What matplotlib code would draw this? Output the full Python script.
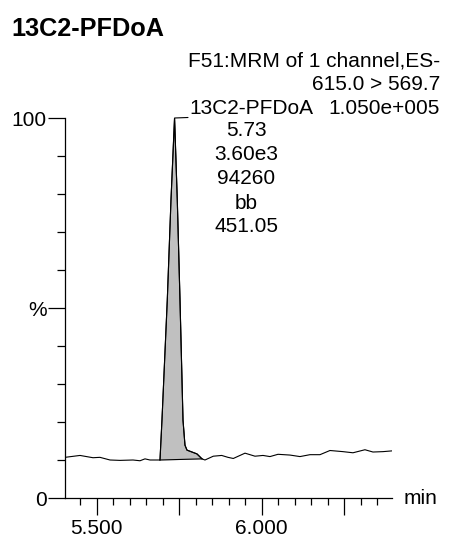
import matplotlib
matplotlib.use("Agg")
import matplotlib.pyplot as plt
from matplotlib.ticker import MultipleLocator, FixedLocator

plt.rcParams['font.family'] = ['Liberation Sans', 'DejaVu Sans']

# Chromatogram trace (time in min, relative intensity in %)
time = [5.404, 5.4495, 5.4888, 5.510, 5.5404, 5.5707, 5.6101, 5.6313, 5.6464, 5.6616,
        5.6919, 5.6979, 5.714, 5.7252, 5.7360, 5.7443, 5.7525, 5.7616, 5.7676,
        5.7737, 5.804, 5.8192, 5.8282, 5.8534, 5.8789, 5.8979, 5.914, 5.9495, 5.9798,
        6.004, 6.0252, 6.0495, 6.0858, 6.1161, 6.1464, 6.1767, 6.207, 6.2464, 6.2767,
        6.313, 6.3373, 6.3676, 6.395]
intensity = [10.7, 11.2, 10.6, 10.7, 10.0, 9.9, 10.0, 9.8, 10.3, 10.0,
             10.0, 20.5, 52.1, 78.4, 100.0, 78.4, 52.1, 20.5, 13.9,
             12.6, 11.6, 10.3, 10.0, 11.0, 11.2, 10.7, 10.4, 11.8, 11.0,
             11.2, 10.9, 11.5, 11.3, 10.9, 11.4, 11.4, 12.5, 12.2, 11.9,
             12.7, 12.1, 12.2, 12.4]
peak_start = 5.6919
peak_end = 5.8192
peak_rt = 5.7360

title = "13C2-PFDoA"
header = ["F51:MRM of 1 channel,ES-", "615.0 > 569.7", "1.050e+005"]
peak_name = "13C2-PFDoA"
peak_info = ["5.73", "3.60e3", "94260", "bb", "451.05"]
x_major = [5.5, 5.75, 6.0, 6.25]
x_labels = ["5.500", "", "6.000", ""]

FS = 15

fig = plt.figure(figsize=(4.49, 5.40), dpi=100)
ax = fig.add_axes([65/449, 1-498/540, (392-65)/449, (498-118)/540])

ax.plot(time, intensity, color='black', lw=0.8)
# filled peak area above straight baseline
i0 = time.index(peak_start)
i1 = time.index(peak_end)
pt = time[i0:i1+1]
pi = intensity[i0:i1+1]
b0, b1 = intensity[i0], intensity[i1]
base = [b0 + (b1-b0)*(t-pt[0])/(pt[-1]-pt[0]) for t in pt]
ax.fill_between(pt, base, pi, color='#c0c0c0', lw=0)
ax.plot(pt, pi, color='black', lw=0.8)
ax.plot([pt[0], pt[-1]], [b0, b1], color='black', lw=0.8)

ax.set_xlim(time[0], time[-1])
ax.set_ylim(0, 100)
for s in ['top', 'right']:
    ax.spines[s].set_visible(False)
for s in ['left', 'bottom']:
    ax.spines[s].set_linewidth(0.9)

ax.xaxis.set_major_locator(FixedLocator(x_major))
ax.set_xticklabels(x_labels)
ax.xaxis.set_minor_locator(MultipleLocator(0.05))
ax.yaxis.set_major_locator(FixedLocator([0, 50, 100]))
ax.set_yticklabels(["0", "%", "100"])
ax.yaxis.set_minor_locator(MultipleLocator(10))
ax.tick_params(which='major', length=12, width=0.9, labelsize=FS, pad=1)
ax.tick_params(axis='x', which='major', pad=3)
ax.tick_params(which='minor', length=6, width=0.9)
ax.tick_params(axis='x', which='minor', length=5)

fig.text(404/449, 1-499/540, "min", fontsize=FS, va='center', ha='left')
fig.text(11/449, 1-29/540, title, fontsize=18.2, fontweight='bold', va='center', ha='left')
for k, line in enumerate(header):
    fig.text(440/449, 1-(61+23.5*k)/540, line, fontsize=FS, va='center', ha='right')

# peak annotation: leader line from apex to label
ax.annotate('', xy=(peak_rt, 100), xytext=(188/449, 1-117.5/540),
            textcoords='figure fraction',
            arrowprops=dict(arrowstyle='-', color='black', lw=0.8,
                            shrinkA=0, shrinkB=0))
fig.text(189/449, 1-108/540, peak_name, fontsize=FS, va='center', ha='left')
for k, line in enumerate(peak_info):
    fig.text(246/449, 1-(131+24*k)/540, line, fontsize=FS, va='center', ha='center')

fig.savefig("out.png", dpi=100)
